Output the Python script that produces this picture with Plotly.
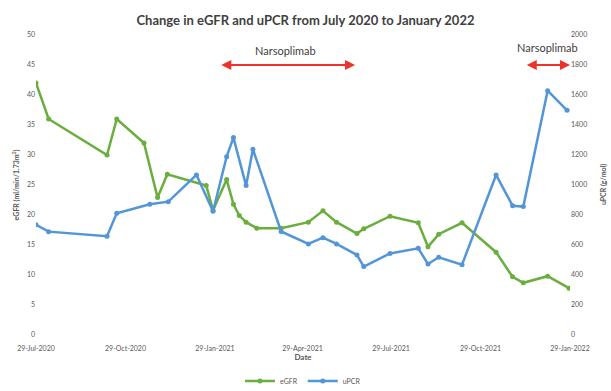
import plotly.graph_objects as go

# ---- data ----
egfr_dates = ["2020-07-29", "2020-08-11", "2020-10-10", "2020-10-20", "2020-11-17",
              "2020-12-01", "2020-12-11", "2021-01-20", "2021-01-27", "2021-02-10",
              "2021-02-17", "2021-02-23", "2021-03-02", "2021-03-13", "2021-04-07",
              "2021-05-05", "2021-05-20", "2021-06-03", "2021-06-24", "2021-07-01",
              "2021-07-28", "2021-08-26", "2021-09-05", "2021-09-16", "2021-10-10",
              "2021-11-14", "2021-12-01", "2021-12-12", "2022-01-06", "2022-01-28"]
egfr_values = [42, 36, 30, 36, 32, 22.9, 26.8, 24.9, 20.8, 25.9,
               21.8, 19.9, 18.8, 17.8, 17.8, 18.8, 20.7, 18.8, 16.9, 17.7,
               19.8, 18.7, 14.7, 16.8, 18.7, 13.8, 9.7, 8.7, 9.8, 7.8]

upcr_dates = ["2020-07-29", "2020-08-11", "2020-10-10", "2020-10-20", "2020-11-23",
              "2020-12-12", "2021-01-10", "2021-01-27", "2021-02-10", "2021-02-17",
              "2021-03-02", "2021-03-09", "2021-04-07", "2021-05-05", "2021-05-20",
              "2021-06-03", "2021-06-24", "2021-07-01", "2021-07-28", "2021-08-26",
              "2021-09-05", "2021-09-16", "2021-10-10", "2021-11-14", "2021-12-01",
              "2021-12-12", "2022-01-06", "2022-01-26"]
upcr_values = [735, 689, 658, 811, 871, 889, 1067, 825, 1189, 1316,
               996, 1238, 690, 607, 649, 607, 533, 456, 544, 578,
               473, 518, 469, 1067, 862, 856, 1629, 1498]

x_ticks = ["2020-07-29", "2020-10-29", "2021-01-29", "2021-04-29",
           "2021-07-29", "2021-10-29", "2022-01-29"]
x_tick_labels = ["29-Jul-2020", "29-Oct-2020", "29-Jan-2021", "29-Apr-2021",
                 "29-Jul-2021", "29-Oct-2021", "29-Jan-2022"]

# treatment periods (start, end) for the arrows
periods = [("2021-02-03", "2021-06-22"), ("2021-12-14", "2022-01-29")]
period_label_pos = [("2021-04-12", 47.5), ("2022-01-06", 47.9)]
period_label = "Narsoplimab"

GREEN = "#6AAE3E"
BLUE = "#5296D8"
TXT = "#595959"
FONT = "Lato"

fig = go.Figure()
fig.add_trace(go.Scatter(x=egfr_dates, y=egfr_values, name="eGFR", mode="lines+markers",
                         line=dict(color=GREEN, width=2.5),
                         marker=dict(color=GREEN, size=5, symbol="circle"), yaxis="y"))
fig.add_trace(go.Scatter(x=upcr_dates, y=upcr_values, name="uPCR", mode="lines+markers",
                         line=dict(color=BLUE, width=2.5),
                         marker=dict(color=BLUE, size=5, symbol="circle"), yaxis="y2"))

for (s, e) in periods:
    fig.add_annotation(x=e, y=45, ax=s, ay=45, xref="x", yref="y", axref="x", ayref="y",
                       showarrow=True, arrowhead=2, startarrowhead=2, arrowside="end+start",
                       arrowsize=1, arrowwidth=2, arrowcolor="#F0302A", text="")

for (px, py) in period_label_pos:
    fig.add_annotation(x=px, y=py, xref="x", yref="y", text=period_label,
                       showarrow=False, font=dict(family=FONT, size=11, color="#404040"))

# right axis title placed as annotation so it stays inside the page
fig.add_annotation(x=1.062, y=0.5, xref="paper", yref="paper", text="<b>uPCR (g/mol)</b>",
                   textangle=-90, showarrow=False, xanchor="center", yanchor="middle",
                   font=dict(family=FONT, size=7, color=TXT))

fig.update_layout(
    width=611, height=391,
    margin=dict(l=36, r=41, t=35, b=56, autoexpand=False),
    paper_bgcolor="white", plot_bgcolor="white",
    font=dict(family=FONT, color=TXT, size=7),
    title=dict(text="<b>Change in eGFR and uPCR from July 2020 to January 2022</b>",
               x=0.5, xanchor="center", yref="container", y=1 - 20 / 391, yanchor="middle",
               font=dict(family=FONT, size=13, color="#404040")),
    xaxis=dict(type="date", range=["2020-07-29", "2022-01-29"],
               tickvals=x_ticks, ticktext=x_tick_labels, automargin=False,
               ticks="outside", ticklen=7, tickcolor="rgba(0,0,0,0)",
               showgrid=False, showline=False, zeroline=False,
               tickfont=dict(size=7, color=TXT),
               title=dict(text="<b>Date</b>", font=dict(size=8, color=TXT), standoff=2)),
    yaxis=dict(range=[0, 50], dtick=5, showgrid=False, zeroline=False, showline=False,
               automargin=False, tickfont=dict(size=7, color=TXT),
               title=dict(text="<b>eGFR (ml/min/1.73m<sup>2</sup>)</b>",
                          font=dict(size=7, color=TXT), standoff=6)),
    yaxis2=dict(range=[0, 2000], dtick=200, overlaying="y", side="right",
                showgrid=False, zeroline=False, showline=False, automargin=False,
                tickfont=dict(size=7, color=TXT)),
    legend=dict(orientation="h", x=0.5, xanchor="center", yref="container",
                y=10 / 391, yanchor="middle", font=dict(size=7, color=TXT)),
    showlegend=True,
)

fig.write_html("out.html", config={"displayModeBar": False},
               post_script="document.body.style.margin='0';")
